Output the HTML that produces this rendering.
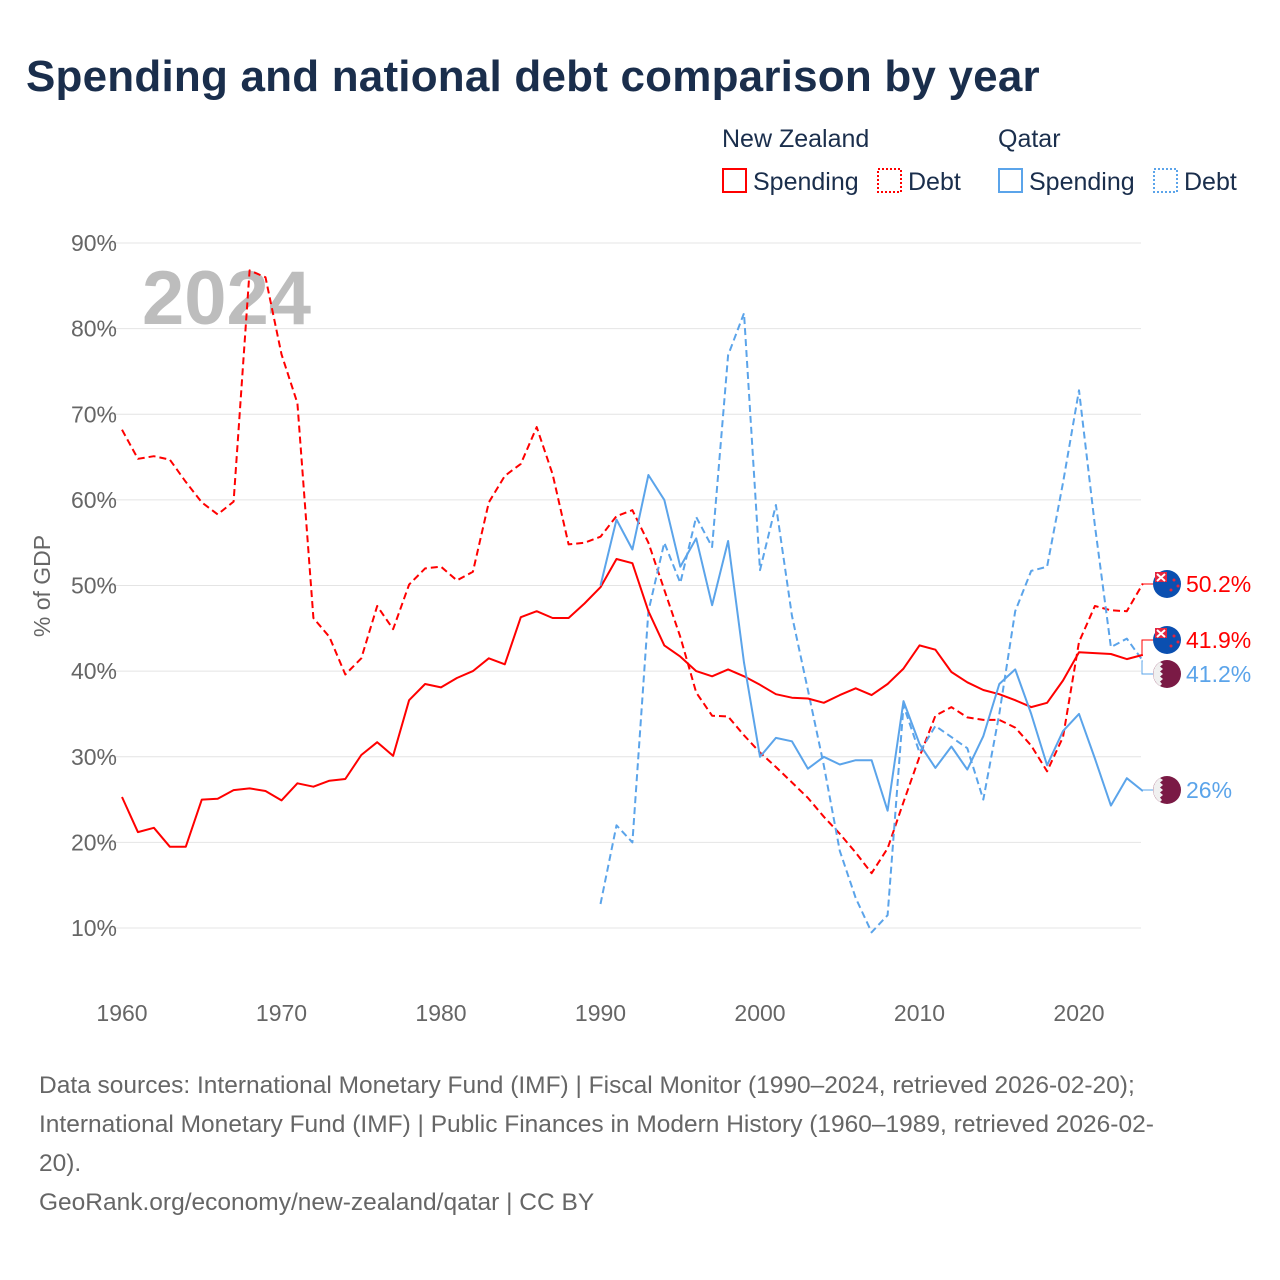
<!DOCTYPE html>
<html><head><meta charset="utf-8">
<style>
body{margin:0;background:#fff;font-family:"Liberation Sans",sans-serif;}
#wrap{position:relative;width:1280px;height:1280px;overflow:hidden;}
h1{position:absolute;left:26px;top:52px;margin:0;font-size:44px;font-weight:bold;color:#1a2e4c;letter-spacing:0.2px;}
.src{position:absolute;left:39px;top:1066px;width:1230px;font-size:24.5px;line-height:39px;color:#666;white-space:nowrap;}
</style></head>
<body><div id="wrap">
<h1>Spending and national debt comparison by year</h1>
<svg id="chart" width="1280" height="1280" style="position:absolute;left:0;top:0"></svg>
<div class="src">Data sources: International Monetary Fund (IMF) | Fiscal Monitor (1990–2024, retrieved 2026-02-20);<br>International Monetary Fund (IMF) | Public Finances in Modern History (1960–1989, retrieved 2026-02-<br>20).<br>GeoRank.org/economy/new-zealand/qatar | CC BY</div>
</div>
<script>
const nzYears=[];for(let y=1960;y<=2024;y++)nzYears.push(y);
const qaYears=[];for(let y=1990;y<=2024;y++)qaYears.push(y);
const nzSpending=[25.3,21.2,21.7,19.5,19.5,25.0,25.1,26.1,26.3,26.0,24.9,26.9,26.5,27.2,27.4,30.2,31.7,30.1,36.6,38.5,38.1,39.2,40.0,41.5,40.8,46.3,47.0,46.2,46.2,47.9,49.8,53.1,52.6,47.0,43.0,41.7,40.0,39.4,40.2,39.4,38.4,37.3,36.9,36.8,36.3,37.2,38.0,37.2,38.5,40.3,43.0,42.5,39.9,38.7,37.8,37.3,36.6,35.8,36.3,38.9,42.2,42.1,42.0,41.4,41.9];
const nzDebt=[68.2,64.8,65.1,64.7,62.1,59.7,58.3,59.8,86.8,86.0,77.0,71.3,46.2,44.0,39.6,41.5,47.6,44.9,50.1,52.0,52.2,50.6,51.6,59.7,62.8,64.2,68.5,63.0,54.8,55.0,55.7,58.1,58.8,55.0,49.5,44.0,37.5,34.8,34.7,32.5,30.5,28.8,27.0,25.2,23.0,21.0,18.8,16.4,19.3,24.7,30.0,34.8,35.8,34.6,34.3,34.3,33.4,31.3,28.3,32.3,43.4,47.6,47.1,47.0,50.2];
const qaSpending=[50.0,57.7,54.2,62.9,60.0,52.2,55.5,47.7,55.2,41.0,30.0,32.2,31.8,28.6,30.0,29.1,29.6,29.6,23.7,36.5,31.5,28.7,31.2,28.5,32.4,38.5,40.2,35.0,29.0,33.0,35.0,29.8,24.3,27.5,26.0];
const qaDebt=[12.8,22.0,20.0,47.0,55.0,50.3,58.0,54.5,76.9,81.8,51.8,59.4,46.5,37.8,29.0,19.0,13.5,9.5,11.5,36.0,30.5,33.6,32.3,31.0,25.0,35.0,47.0,51.7,52.2,62.0,72.8,57.0,42.8,43.8,41.2];
const yTicks=[10,20,30,40,50,60,70,80,90];
const xTicks=[1960,1970,1980,1990,2000,2010,2020];
const endLabels=["50.2%","41.9%","41.2%","26%"];

const X=y=>122+(y-1960)*15.95;
const Y=v=>928-(v-10)*8.5625;
const svg=document.getElementById('chart');const NS='http://www.w3.org/2000/svg';
function mk(t,a,p){const e=document.createElementNS(NS,t);for(const k in a)e.setAttribute(k,a[k]);(p||svg).appendChild(e);return e;}
yTicks.forEach(v=>{
 const l=mk('line',{x1:98,x2:1141,y1:Y(v),y2:Y(v),stroke:'#e4e4e4','stroke-width':1});
 
 
 const t=mk('text',{x:117,y:Y(v)+8,'text-anchor':'end','font-size':23,fill:'#666'});t.textContent=v+'%';
 
 
});
xTicks.forEach(y=>{
 const t=mk('text',{x:X(y),y:1021,'text-anchor':'middle','font-size':23,fill:'#666'});t.textContent=y;
 
 
});
const yt=mk('text',{x:0,y:0,transform:'translate(50,586) rotate(-90)','text-anchor':'middle','font-size':23,fill:'#666'});yt.textContent='% of GDP';


const yr=mk('text',{x:142,y:324,'font-size':76,'font-weight':'bold',fill:'#bdbdbd'});yr.textContent='2024';


function line(years,vals,color,dash,name){
 const d=vals.map((v,i)=>(i?'L':'M')+X(years[i]).toFixed(1)+','+Y(v).toFixed(1)).join('');
 const p=mk('path',{d:d,fill:'none',stroke:color,'stroke-width':2,'stroke-dasharray':dash||'none','stroke-linejoin':'round'});
 
 
}
line(nzYears,nzDebt,'#ff0000','7,4','nz-debt-line');
line(qaYears,qaDebt,'#5ba4ea','7,4','qatar-debt-line');
line(nzYears,nzSpending,'#ff0000',null,'nz-spending-line');
line(qaYears,qaSpending,'#5ba4ea',null,'qatar-spending-line');
const ends=[[nzDebt[nzDebt.length-1],584,'#ff0000','nz'],[nzSpending[nzSpending.length-1],640,'#ff0000','nz'],[qaDebt[qaDebt.length-1],674,'#5ba4ea','qa'],[qaSpending[qaSpending.length-1],790,'#5ba4ea','qa']];
ends.forEach((e,i)=>{
 const x0=X(2024),ly=e[1];
 const c=mk('path',{d:`M${x0},${Y(e[0])}H1142V${ly}H1153`,fill:'none',stroke:e[2],'stroke-width':1});
 
 
 const g=mk('g',{});
 
 
 if(e[3]=='nz'){
  mk('circle',{cx:1167,cy:ly,r:14,fill:'#0b4fb0'},g);
  mk('rect',{x:1155,y:ly-12,width:12,height:10,fill:'#e3253f'},g);
  mk('path',{d:`M1157,${ly-10}l8,7M1165,${ly-10}l-8,7`,stroke:'#fff','stroke-width':2},g);
  mk('circle',{cx:1174,cy:ly-4,r:1.5,fill:'#e3253f'},g);mk('circle',{cx:1171,cy:ly+6,r:1.5,fill:'#e3253f'},g);mk('circle',{cx:1178,cy:ly+2,r:1.5,fill:'#e3253f'},g);
 }else{
  mk('circle',{cx:1167,cy:ly,r:14,fill:'#7a1a45'},g);
  mk('path',{d:`M1160,${ly-12}A14,14 0 0 0 1160,${ly+12}L1162,${ly+10}l-2,-2.5l3,-2.5l-3,-2.5l3,-2.5l-3,-2.5l3,-2.5l-3,-2.5l3,-2.5z`,fill:'#f0f0f0'},g);
 }
 const t=mk('text',{x:1186,y:ly+8,'font-size':23,fill:e[2]});t.textContent=endLabels[i];
 
 
});
function txt(x,y,s,name,col){const t=mk('text',{x:x,y:y,'font-size':25,fill:col||'#1a2e4c'});t.textContent=s;
 
 }
txt(722,147,'New Zealand','legend-group-nz');
txt(998,147,'Qatar','legend-group-qatar');
const leg=[[722,'#ff0000',null,'Spending','legend-nz-spending'],[877,'#ff0000','2,2','Debt','legend-nz-debt'],[998,'#5ba4ea',null,'Spending','legend-qatar-spending'],[1153,'#5ba4ea','2,2','Debt','legend-qatar-debt']];
leg.forEach(l=>{
 const r=mk('rect',{x:l[0]+1,y:169,width:23,height:23,fill:'none',stroke:l[1],'stroke-width':2,'stroke-dasharray':l[2]||'none'});
 
 
 txt(l[0]+31,190,l[3],l[4]);
});
</script>
</body></html>
